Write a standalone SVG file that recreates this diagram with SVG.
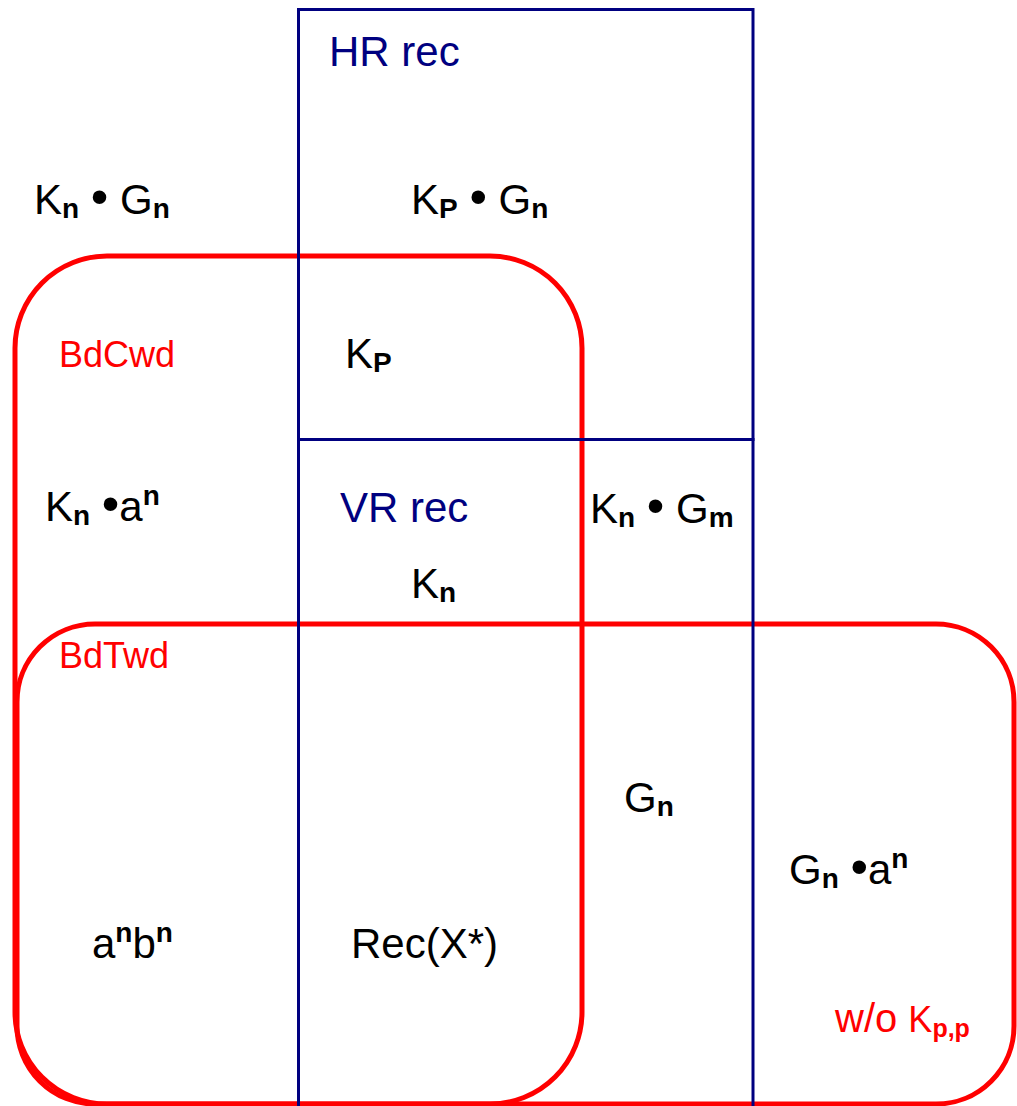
<svg xmlns="http://www.w3.org/2000/svg" width="1017" height="1106" viewBox="0 0 1017 1106">
<style>
  text { font-family: "Liberation Sans", Arial, sans-serif; }
  .t { font-size: 42px; fill: #000; }
  .blue { font-size: 42px; fill: #000080; }
  .red { font-size: 36px; fill: #ff0000; }
  .s { font-size: 28px; font-weight: bold; }
  .b { font-size: 50px; }
  .bx { fill: none; stroke: #000080; stroke-width: 3; }
  .rr { fill: none; stroke: #ff0000; stroke-width: 5; }
</style>
<rect width="1017" height="1106" fill="#fff"/>
<g id="BdCwd">
  <rect class="rr" x="15" y="256" width="567" height="848" rx="92" ry="92"/>
  <text class="red" x="59" y="367">BdCwd</text>
</g>
<g id="BdTwd">
  <rect class="rr" x="17" y="624" width="997" height="480" rx="78" ry="78"/>
  <text class="red" x="59" y="668">BdTwd</text>
</g>
<g id="HRrec">
  <rect class="bx" x="298.5" y="9.5" width="454.5" height="430"/>
  <text class="blue" x="329" y="66">HR rec</text>
</g>
<g id="VRrec">
  <rect class="bx" x="298.5" y="439.5" width="454.5" height="680"/>
  <text class="blue" x="340" y="522">VR rec</text>
</g>
<g id="labels">
  <text class="t" x="34" y="214">K<tspan class="s" dy="4">n</tspan><tspan dy="-4"> </tspan><tspan class="b">•</tspan><tspan> G</tspan><tspan class="s" dy="4">n</tspan></text>
  <text class="t" x="411" y="214">K<tspan class="s" dy="4">P</tspan><tspan dy="-4"> </tspan><tspan class="b">•</tspan><tspan> G</tspan><tspan class="s" dy="4">n</tspan></text>
  <text class="t" x="345" y="368">K<tspan class="s" dy="4">P</tspan></text>
  <text class="t" x="45" y="521">K<tspan class="s" dy="4">n</tspan><tspan dy="-4"> </tspan><tspan class="b">•</tspan><tspan>a</tspan><tspan class="s" dy="-16">n</tspan></text>
  <text class="t" x="590" y="523">K<tspan class="s" dy="4">n</tspan><tspan dy="-4"> </tspan><tspan class="b">•</tspan><tspan> G</tspan><tspan class="s" dy="4">m</tspan></text>
  <text class="t" x="411" y="598">K<tspan class="s" dy="4">n</tspan></text>
  <text class="t" x="624" y="812">G<tspan class="s" dy="4">n</tspan></text>
  <text class="t" x="789" y="884">G<tspan class="s" dy="4">n</tspan><tspan dy="-4"> </tspan><tspan class="b">•</tspan><tspan>a</tspan><tspan class="s" dy="-16">n</tspan></text>
  <text class="t" x="92" y="958">a<tspan class="s" dy="-16">n</tspan><tspan dy="16">b</tspan><tspan class="s" dy="-16">n</tspan></text>
  <text class="t" x="351" y="958">Rec(X*)</text>
  <text class="red" x="835" y="1032" style="font-size:40px">w/o <tspan style="font-size:36px">K</tspan><tspan class="s" dy="5" style="font-size:25px">p,p</tspan></text>
</g>
</svg>
